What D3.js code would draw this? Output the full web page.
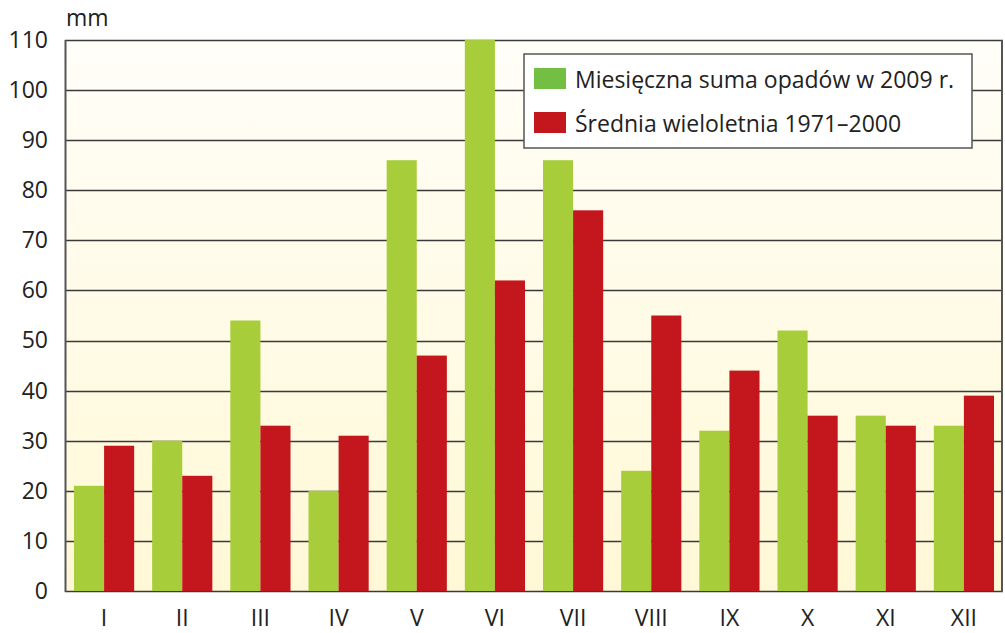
<!DOCTYPE html>
<html>
<head>
<meta charset="utf-8">
<script src="https://cdn.jsdelivr.net/npm/d3@7"></script>
<style>
	body { margin: 0; background: #fff; }
	svg { display: block; font-family: "Open Sans", sans-serif; }
</style>
</head>
<body>
<div id="chart"></div>
<script>
'use strict'

// Dane: opady miesięczne (mm)
const months = ['I', 'II', 'III', 'IV', 'V', 'VI', 'VII', 'VIII', 'IX', 'X', 'XI', 'XII'];
const opady2009 = [21, 30, 54, 20, 86, 110, 86, 24, 32, 52, 35, 33];
const srednia = [29, 23, 33, 31, 47, 62, 76, 55, 44, 35, 33, 39];
const yTicks = [0, 10, 20, 30, 40, 50, 60, 70, 80, 90, 100, 110];
const seriesNames = ['Miesięczna suma opadów w 2009 r.', 'Średnia wieloletnia 1971–2000'];

const width = 1005;
const height = 633;
const margin = {left: 65, right: 2, top: 40, bottom: 42};
const fontSize = 23;

const svg = d3.select('#chart')
	.append('svg')
	.attr('width', width)
	.attr('height', height);

const defs = svg.append('defs');
const grad = defs.append('linearGradient')
	.attr('id', 'bg')
	.attr('x1', 0).attr('y1', 0).attr('x2', 0).attr('y2', 1);
grad.append('stop').attr('offset', '0%').attr('stop-color', '#fffef8');
grad.append('stop').attr('offset', '100%').attr('stop-color', '#fff8d6');

const x = d3.scaleBand()
	.domain(months)
	.range([margin.left, width - margin.right])
	.paddingInner(0.23)
	.paddingOuter(0.115);

const x1 = d3.scaleBand()
	.domain([0, 1])
	.range([0, x.bandwidth()]);

const y = d3.scaleLinear()
	.domain([0, 110])
	.range([height - margin.bottom, margin.top]);

// tło
svg.append('rect')
	.attr('x', margin.left)
	.attr('y', margin.top)
	.attr('width', width - margin.right - margin.left)
	.attr('height', y(0) - margin.top)
	.attr('fill', 'url(#bg)');

// linie siatki
svg.append('g')
	.selectAll('line')
	.data(yTicks)
	.enter()
	.append('line')
		.attr('x1', margin.left)
		.attr('x2', width - margin.right)
		.attr('y1', d => Math.round(y(d)) + 0.5)
		.attr('y2', d => Math.round(y(d)) + 0.5)
		.style('stroke', '#3a3a3a')
		.style('stroke-width', '1.4px');

// słupki
const groups = svg.append('g')
	.selectAll('g')
	.data(months)
	.enter()
	.append('g')
		.attr('transform', d => `translate(${x(d)},0)`);

groups.append('rect')
	.attr('x', x1(0))
	.attr('width', x1.bandwidth())
	.attr('y', (d, i) => y(opady2009[i]))
	.attr('height', (d, i) => y(0) - y(opady2009[i]))
	.attr('fill', '#a8cd3a');

groups.append('rect')
	.attr('x', x1(1))
	.attr('width', x1.bandwidth())
	.attr('y', (d, i) => y(srednia[i]))
	.attr('height', (d, i) => y(0) - y(srednia[i]))
	.attr('fill', '#c4161d');

// osie
svg.append('line')
	.attr('x1', margin.left + 0.5).attr('x2', margin.left + 0.5)
	.attr('y1', margin.top).attr('y2', y(0) + 1)
	.style('stroke', '#555').style('stroke-width', '2px');
svg.append('line')
	.attr('x1', width - margin.right - 1).attr('x2', width - margin.right - 1)
	.attr('y1', margin.top).attr('y2', y(0) + 1)
	.style('stroke', '#555').style('stroke-width', '2px');

const yAxis = svg.append('g')
	.attr('transform', `translate(${margin.left},0)`)
	.call(d3.axisLeft(y).tickValues(yTicks).tickSize(0).tickPadding(17));
yAxis.select('.domain').remove();
yAxis.selectAll('text')
	.attr('font-size', fontSize)
	.attr('fill', '#222')
	.attr('font-family', '"Open Sans", sans-serif');

const xAxis = svg.append('g')
	.attr('transform', `translate(0,${y(0)})`)
	.call(d3.axisBottom(x).tickSize(0).tickPadding(19));
xAxis.select('.domain').remove();
xAxis.selectAll('text')
	.attr('font-size', fontSize)
	.attr('fill', '#222')
	.attr('font-family', '"Open Sans", sans-serif');

svg.append('text')
	.attr('x', 66)
	.attr('y', 26)
	.attr('font-size', 23)
	.attr('fill', '#222')
	.text('mm');

// legenda
const legend = svg.append('g').attr('transform', 'translate(524,54)');
legend.append('rect')
	.attr('width', 448)
	.attr('height', 94)
	.attr('fill', '#fff')
	.style('stroke', '#555')
	.style('stroke-width', '1.5px');

const legendColors = ['#72bf44', '#c4161d'];
seriesNames.forEach((name, i) => {
	legend.append('rect')
		.attr('x', 10)
		.attr('y', 14 + i * 44)
		.attr('width', 32)
		.attr('height', 21)
		.attr('fill', legendColors[i]);
	legend.append('text')
		.attr('x', 51)
		.attr('y', 34 + i * 44)
		.attr('font-size', fontSize)
		.attr('fill', '#222')
		.text(name);
});
</script>
</body>
</html>
